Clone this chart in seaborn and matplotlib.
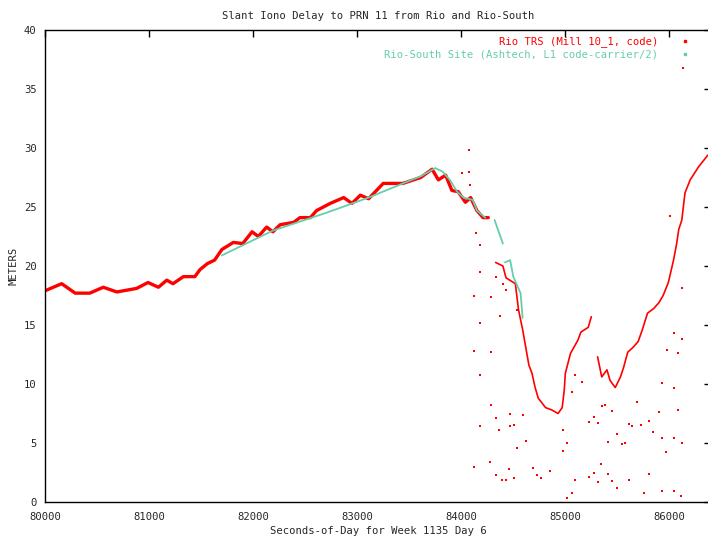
from matplotlib import pyplot as plt
from matplotlib.lines import Line2D
import seaborn as sb

# red trace (Rio TRS), one list per continuous piece
rio_t = [80000, 80160, 80290, 80430, 80560, 80690, 80880, 80990, 81090, 81170,
         81230, 81330, 81440, 81490, 81560, 81630, 81700, 81810, 81900, 81990,
         82050, 82130, 82190, 82260, 82390, 82450, 82550, 82610, 82740, 82870,
         82950, 83030, 83110, 83250, 83440, 83610, 83720, 83780, 83850, 83910,
         83970, 84040, 84090, 84150, 84210, 84260]
rio_v = [17.9, 18.5, 17.7, 17.7, 18.2, 17.8, 18.1, 18.6, 18.2, 18.8,
         18.5, 19.1, 19.1, 19.7, 20.2, 20.5, 21.4, 22.0, 21.9, 22.9,
         22.5, 23.3, 22.9, 23.5, 23.7, 24.1, 24.1, 24.7, 25.3, 25.8,
         25.3, 26.0, 25.7, 27.0, 27.0, 27.5, 28.2, 27.3, 27.7, 26.4,
         26.3, 25.4, 25.8, 24.7, 24.1, 24.1]
dip1_t = [84330, 84400, 84430, 84520, 84550, 84590, 84620, 84650, 84680, 84710,
          84740, 84810, 84870, 84930, 84970, 84990, 85000, 85050, 85120, 85150,
          85220, 85250]
dip1_v = [20.3, 20.0, 19.0, 18.5, 16.3, 14.6, 13.1, 11.6, 10.9, 9.7,
          8.8, 8.0, 7.8, 7.5, 8.0, 9.5, 10.9, 12.6, 13.7, 14.4,
          14.8, 15.7]
dip2_t = [85310, 85350, 85400, 85430, 85480, 85530, 85560, 85600, 85650, 85700,
          85740, 85790, 85850, 85900, 85940, 85990, 86040, 86070, 86090, 86120,
          86130, 86150, 86200, 86280, 86370]
dip2_v = [12.3, 10.6, 11.2, 10.3, 9.7, 10.6, 11.4, 12.7, 13.1, 13.6,
          14.6, 16.0, 16.4, 16.9, 17.5, 18.6, 20.5, 21.9, 23.1, 23.9,
          24.7, 26.2, 27.3, 28.4, 29.4]

# scattered red outliers
out_t = [84070, 84070, 84010, 84080, 84180, 84180, 84120, 84180, 84140, 84330,
         84290, 84400, 84430, 84370, 84540, 84120, 84180, 84120, 84180, 84120,
         84180, 84290, 84290, 84280, 84330, 84360, 84330, 84390, 84430, 84470,
         84470, 84460, 84510, 84510, 84540, 84620, 84590, 84690, 84730, 84770,
         84850, 84980, 84980, 85020, 85060, 85060, 85090, 85090, 85160, 85230,
         85280, 85310, 85230, 85280, 85310, 85340, 85350, 85380, 85410, 85410,
         85450, 85450, 85500, 85500, 85540, 85570, 85610, 85610, 85640, 85690,
         85730, 85760, 85800, 85800, 85840, 85900, 85930, 85930, 85970, 85980,
         85930, 86040, 86040, 86040, 86040, 86080, 86080, 86120, 86120, 86120,
         86110, 85020, 86010, 86130]
out_v = [29.8, 28.0, 27.9, 26.9, 21.8, 19.5, 17.5, 15.2, 22.8, 19.1,
         17.4, 18.5, 18.0, 15.8, 16.3, 17.5, 15.2, 12.8, 10.8, 3.0,
         6.4, 12.7, 8.2, 3.4, 7.1, 6.1, 2.3, 1.9, 1.9, 6.4,
         7.5, 2.8, 2.0, 6.5, 4.6, 5.2, 7.4, 2.9, 2.3, 2.0,
         2.6, 6.1, 4.3, 5.0, 9.3, 0.8, 10.8, 1.9, 10.2, 6.8,
         7.2, 6.7, 2.1, 2.5, 1.7, 3.2, 8.1, 8.2, 5.1, 2.4,
         7.7, 1.8, 5.8, 1.2, 4.9, 5.0, 6.6, 1.9, 6.4, 8.5,
         6.5, 0.8, 6.9, 2.4, 5.9, 7.6, 5.4, 0.9, 4.2, 12.9,
         10.1, 14.3, 9.7, 5.4, 0.9, 7.8, 12.6, 13.8, 5.0, 18.1,
         0.5, 0.3, 24.2, 36.8]

# green trace (Rio-South), three pieces
south_t = [81700, 82190, 82700, 83110, 83440, 83610, 83750, 83820, 83890, 83960,
           84020, 84110, 84150, 84230]
south_v = [20.9, 23.0, 24.5, 25.8, 27.0, 27.6, 28.3, 28.0, 27.3, 26.3,
           25.8, 25.6, 24.7, 24.1]
south2_t = [84320, 84360, 84400]
south2_v = [23.9, 22.9, 21.9]
south3_t = [84420, 84470, 84500, 84540, 84570, 84590]
south3_v = [20.3, 20.5, 19.1, 18.3, 17.7, 15.6]

RED = "#ff0000"
GREEN = "#66cdaa"
FS = 7.6

sb.set_style("white")
plt.rcParams['font.family'] = ['DejaVu Sans Mono']

fig = plt.figure(figsize=(7.08, 5.37), dpi=100)
ax = fig.add_axes([45 / 708, 35 / 537, 666 / 708, 472 / 537])

sb.lineplot(x=rio_t, y=rio_v, color=RED, lw=2.4, ax=ax, estimator=None, sort=False)
sb.lineplot(x=dip1_t, y=dip1_v, color=RED, lw=1.2, ax=ax, estimator=None, sort=False)
sb.lineplot(x=dip2_t, y=dip2_v, color=RED, lw=1.2, ax=ax, estimator=None, sort=False)
sb.scatterplot(x=out_t, y=out_v, color=RED, s=3, marker="s", linewidth=0, ax=ax)
for tt, vv in [(south_t, south_v), (south2_t, south2_v), (south3_t, south3_v)]:
    sb.lineplot(x=tt, y=vv, color=GREEN, lw=1.3, ax=ax, estimator=None, sort=False)

ax.set_xlim(80000, 86400)
ax.set_ylim(0, 40)
ax.set_xticks(range(80000, 86001, 1000))
ax.set_yticks(range(0, 41, 5))
ax.tick_params(direction="in", length=5, width=1, labelsize=FS, top=True, right=True,
               color="black")
ax.tick_params(axis="x", pad=7)
ax.tick_params(axis="y", pad=6)
for s in ax.spines.values():
    s.set_color("black")
    s.set_linewidth(1)

ax.set_title("Slant Iono Delay to PRN 11 from Rio and Rio-South", fontsize=FS, pad=8)
ax.set_xlabel("Seconds-of-Day for Week 1135 Day 6", fontsize=FS, labelpad=3)
ax.set_ylabel("METERS", fontsize=FS, labelpad=4)

handles = [Line2D([], [], color=RED, marker="s", markersize=1.5, lw=0),
           Line2D([], [], color=GREEN, marker="s", markersize=1.5, lw=0)]
ax.legend(handles, ["Rio TRS (Mill 10_1, code)", "Rio-South Site (Ashtech, L1 code-carrier/2)"],
          loc="upper right", bbox_to_anchor=(0.983, 1.007), markerfirst=False, frameon=False,
          fontsize=FS, labelcolor="linecolor", handletextpad=2.0, labelspacing=0.25,
          handlelength=1)

fig.savefig("out.png", dpi=100)
